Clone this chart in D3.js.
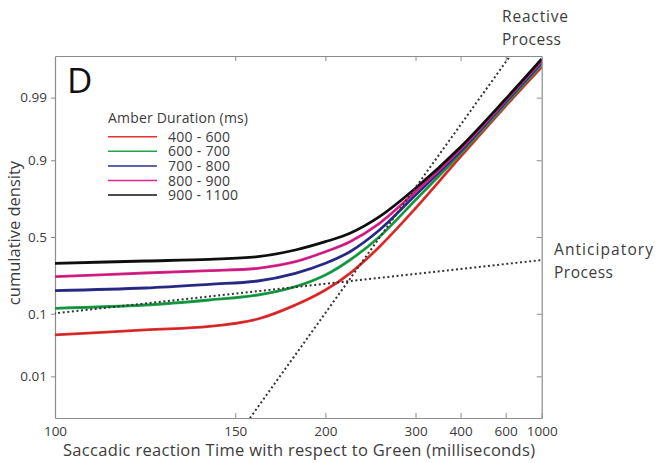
<!DOCTYPE html>
<html><head><meta charset="utf-8">
<script src="https://cdn.jsdelivr.net/npm/d3@7"></script>
<style>html,body{margin:0;padding:0;background:#fff;} svg{display:block;font-family:"Open Sans",sans-serif;}</style>
</head><body><svg id="chart" width="671" height="463"></svg>
<script>
// ---- data ----
const times = [100,120,140,160,180,200,220,250,300,400,600,1000];
const amber400_600 = [0.0510,0.0603,0.0676,0.0855,0.1281,0.1881,0.2722,0.4357,0.6841,0.9100,0.98563,0.99773];
const amber600_700 = [0.1170,0.1281,0.1465,0.1664,0.2034,0.2629,0.3505,0.5020,0.7316,0.9183,0.98680,0.99801];
const amber700_800 = [0.1850,0.1973,0.2149,0.2313,0.2722,0.3304,0.4031,0.5465,0.7584,0.9245,0.98790,0.99821];
const amber800_900 = [0.2537,0.2740,0.2868,0.3007,0.3400,0.4031,0.4687,0.5905,0.7753,0.9291,0.98866,0.99835];
const amber900_1100 = [0.3304,0.3443,0.3548,0.3711,0.4141,0.4687,0.5246,0.6327,0.7919,0.9335,0.98939,0.99852];
const seriesNames = ["400 - 600","600 - 700","700 - 800","800 - 900","900 - 1100"];
const seriesColors = ["#ec2f2f","#1ca54a","#2c2f8f","#e3238f","#111111"];
const reactiveT = [200,400];
const reactiveP = [0.1022,0.96947];
const anticipT = [100,1000];
const anticipP = [0.1013,0.3505];
const xTicks = [100,150,200,300,400,600,1000];
const yTicks = [0.01,0.1,0.5,0.9,0.99];
const yTickLabels = ["0.01","0.1","0.5","0.9","0.99"];

// ---- probit ----
function probit(p){
 const a=[-3.969683028665376e+01,2.209460984245205e+02,-2.759285104469687e+02,1.383577518672690e+02,-3.066479806614716e+01,2.506628277459239e+00];
 const b=[-5.447609879822406e+01,1.615858368580409e+02,-1.556989798598866e+02,6.680131188771972e+01,-1.328068155288572e+01];
 const c=[-7.784894002430293e-03,-3.223964580411365e-01,-2.400758277161838e+00,-2.549732539343734e+00,4.374664141464968e+00,2.938163982698783e+00];
 const d=[7.784695709041462e-03,3.224671290700398e-01,2.445134137142996e+00,3.754408661907416e+00];
 const pl=0.02425, ph=1-pl; let q,r;
 if(p<pl){q=Math.sqrt(-2*Math.log(p));return (((((c[0]*q+c[1])*q+c[2])*q+c[3])*q+c[4])*q+c[5])/((((d[0]*q+d[1])*q+d[2])*q+d[3])*q+1);}
 if(p<=ph){q=p-0.5;r=q*q;return (((((a[0]*r+a[1])*r+a[2])*r+a[3])*r+a[4])*r+a[5])*q/(((((b[0]*r+b[1])*r+b[2])*r+b[3])*r+b[4])*r+1);}
 q=Math.sqrt(-2*Math.log(1-p));return -(((((c[0]*q+c[1])*q+c[2])*q+c[3])*q+c[4])*q+c[5])/((((d[0]*q+d[1])*q+d[2])*q+d[3])*q+1);
}
function makeScale(fwd, lin){
  const s = v => lin(fwd(v));
  s.range = () => lin.range();
  s.copy = () => makeScale(fwd, lin.copy());
  return s;
}
const L=55, R=541.7, T=56, B=418;
const xLin = d3.scaleLinear().domain([-1/100,-1/1000]).range([L,R]);
const yLin = d3.scaleLinear().domain([-3.022,3.022]).range([B,T]);
const x = makeScale(t => -1/t, xLin);
const y = makeScale(p => probit(p), yLin);

const svg = d3.select("#chart");
svg.append("defs").append("clipPath").attr("id","plot").append("rect")
  .attr("x",L).attr("y",T).attr("width",R-L).attr("height",B-T);

const axisColor="#8c8c8c", textColor="#3c3c3c";
function styleAxis(g){
  g.selectAll(".domain").attr("stroke",axisColor).attr("stroke-width",1.2);
  g.selectAll(".tick line").attr("stroke",axisColor).attr("stroke-width",1);
  g.selectAll(".tick text").attr("fill",textColor).style("font-size","13.5px").style("font-family","'Open Sans', sans-serif");
}
svg.append("g").attr("transform",`translate(0,${B})`)
  .call(d3.axisBottom(x).tickValues(xTicks).tickFormat(d=>d).tickSizeInner(-5).tickSizeOuter(0).tickPadding(8)).call(styleAxis);
svg.append("g").attr("transform",`translate(0,${T})`)
  .call(d3.axisTop(x).tickValues(xTicks.slice(1,-1)).tickFormat("").tickSizeInner(-5).tickSizeOuter(0)).call(styleAxis);
svg.append("g").attr("transform",`translate(${L},0)`)
  .call(d3.axisLeft(y).tickValues(yTicks).tickFormat((d,i)=>yTickLabels[i]).tickSizeInner(4).tickSizeOuter(0).tickPadding(4)).call(styleAxis);
svg.append("g").attr("transform",`translate(${R},0)`)
  .call(d3.axisRight(y).tickValues(yTicks).tickFormat("").tickSizeInner(-5).tickSizeOuter(0)).call(styleAxis);

// curves
const allSeries = [amber400_600, amber600_700, amber700_800, amber800_900, amber900_1100];
const line = d3.line().x(d=>x(d[0])).y(d=>y(d[1])).curve(d3.curveCatmullRom.alpha(0.5));
const plot = svg.append("g").attr("clip-path","url(#plot)");
allSeries.forEach((vals,i)=>{
  const pts = times.map((t,j)=>[t,vals[j]]);
  plot.append("path").attr("d",line(pts)).attr("fill","none")
    .attr("stroke",seriesColors[i]).attr("stroke-width",2.8);
  plot.append("path").attr("d",line(pts)).attr("fill","none")
    .attr("stroke","#000").attr("stroke-opacity",0.3).attr("stroke-width",0.7);
});
// process lines (extended through the plot, clipped)
function extLine(ts, ps){
  const x1=x(ts[0]), y1=y(ps[0]), x2=x(ts[1]), y2=y(ps[1]);
  const s0=-3, s1=3;
  return [[x1+(x2-x1)*s0, y1+(y2-y1)*s0],[x1+(x2-x1)*s1, y1+(y2-y1)*s1]];
}
[[reactiveT,reactiveP],[anticipT,anticipP]].forEach(([ts,ps])=>{
  plot.append("path").attr("d",d3.line()(extLine(ts,ps))).attr("fill","none")
    .attr("stroke","#333").attr("stroke-width",2).attr("stroke-dasharray","2,2.6");
});

// labels
function txt(xp, yp, s, size, len, anchor){
  const t = svg.append("text").attr("x",xp).attr("y",yp).attr("fill",textColor)
    .style("font-size",size+"px").text(s);
  if(anchor) t.attr("text-anchor",anchor);
  if(len) t.attr("textLength",len).attr("lengthAdjust","spacing");
  return t;
}
svg.append("text").attr("x",67).attr("y",93).attr("fill","#111").style("font-size","35px").text("D");
txt(63, 456, "Saccadic reaction Time with respect to Green (milliseconds)", 16.5, 472);
svg.append("text").attr("transform","translate(20,233) rotate(-90)").attr("text-anchor","middle").attr("fill",textColor)
  .style("font-size","16.5px").text("cumulative density");
txt(502, 22, "Reactive", 15.5, 66);
txt(502, 45, "Process", 15.5, 59);
txt(554, 255, "Anticipatory", 15.5, 99);
txt(554, 278, "Process", 15.5, 59);

// legend
txt(108, 122.5, "Amber Duration (ms)", 14, 140);
seriesNames.forEach((n,i)=>{
  const yy = 136.7 + i*14.6;
  svg.append("line").attr("x1",108).attr("x2",157).attr("y1",yy).attr("y2",yy)
    .attr("stroke",seriesColors[i]).attr("stroke-width",1.5);
  txt(168, yy+5, n, 14, n.length>9 ? 70 : 62);
});
</script></body></html>
